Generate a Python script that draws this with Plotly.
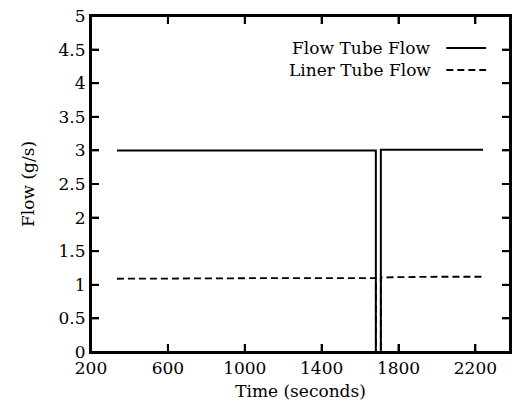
import plotly.graph_objects as go

# Data
time_s = [335, 800, 1200, 1682, 1682, 1708, 1708, 2000, 2240]
flow_tube = [3.0, 3.0, 3.0, 3.0, 0.0, 0.0, 3.01, 3.01, 3.01]
liner_tube = [1.09, 1.10, 1.10, 1.10, 0.0, 0.0, 1.11, 1.12, 1.12]
x_ticks = [200, 600, 1000, 1400, 1800, 2200]
y_ticks = [0, 0.5, 1, 1.5, 2, 2.5, 3, 3.5, 4, 4.5, 5]
y_tick_labels = ["0", "0.5", "1", "1.5", "2", "2.5", "3", "3.5", "4", "4.5", "5"]
x_range = [200, 2380]
y_range = [0, 5]

W, H = 515, 411
L, R, T, B = 91, 3, 16, 59
PW, PH = W - L - R, H - T - B
FONT = "DejaVu Serif"
TICK = 8  # inward tick length in pixels

def px(x):
    return (x - L) / PW

def py(y):
    return (H - B - y) / PH

fig = go.Figure()
fig.add_trace(go.Scatter(x=time_s, y=flow_tube, mode="lines",
                         line=dict(color="black", width=2), name="Flow Tube Flow"))
fig.add_trace(go.Scatter(x=time_s, y=liner_tube, mode="lines",
                         line=dict(color="black", width=1.8, dash="7px,4px"),
                         name="Liner Tube Flow"))

# gnuplot-style key: text then sample on the right
for label, yy, dash in [("Flow Tube Flow", 48, "solid"), ("Liner Tube Flow", 70, "7px,4px")]:
    fig.add_annotation(x=px(435), y=py(yy), xref="paper", yref="paper", text=label,
                       showarrow=False, xanchor="right", yanchor="middle",
                       font=dict(family=FONT, size=17, color="black"))
    fig.add_shape(type="line", xref="paper", yref="paper",
                  x0=px(448), x1=px(488), y0=py(yy), y1=py(yy),
                  line=dict(color="black", width=1.8, dash=dash))

# plot border
fig.add_shape(type="rect", xref="paper", yref="paper", x0=0, x1=1, y0=0, y1=1,
              line=dict(color="black", width=2), layer="above")

# inward ticks on all four sides, placed by the axes from the tick arrays
tick_line = dict(color="black", width=2)
for xv in x_ticks:
    fig.add_shape(type="line", xref="x", yref="paper", x0=xv, x1=xv,
                  y0=0, y1=TICK / PH, line=tick_line, layer="above")
    fig.add_shape(type="line", xref="x", yref="paper", x0=xv, x1=xv,
                  y0=1 - TICK / PH, y1=1, line=tick_line, layer="above")
for yv in y_ticks:
    fig.add_shape(type="line", xref="paper", yref="y", x0=0, x1=TICK / PW,
                  y0=yv, y1=yv, line=tick_line, layer="above")
    fig.add_shape(type="line", xref="paper", yref="y", x0=1 - TICK / PW, x1=1,
                  y0=yv, y1=yv, line=tick_line, layer="above")

axis_common = dict(showgrid=False, zeroline=False, showline=True, linecolor="black",
                   linewidth=2, mirror="allticks", ticks="inside", ticklen=TICK,
                   tickwidth=2, tickcolor="black",
                   tickfont=dict(family=FONT, size=17, color="black"))

fig.update_xaxes(range=x_range, tickvals=x_ticks,
                 title=dict(text="Time (seconds)", standoff=8,
                            font=dict(family=FONT, size=17, color="black")),
                 **axis_common)
fig.update_yaxes(range=y_range, tickvals=y_ticks, ticktext=y_tick_labels,
                 ticksuffix=" ",
                 title=dict(text="Flow (g/s)", standoff=20,
                            font=dict(family=FONT, size=17, color="black")),
                 **axis_common)

fig.update_layout(width=W, height=H, margin=dict(l=L, r=R, t=T, b=B),
                  plot_bgcolor="white", paper_bgcolor="white", showlegend=False)

fig.write_html("out.html")
